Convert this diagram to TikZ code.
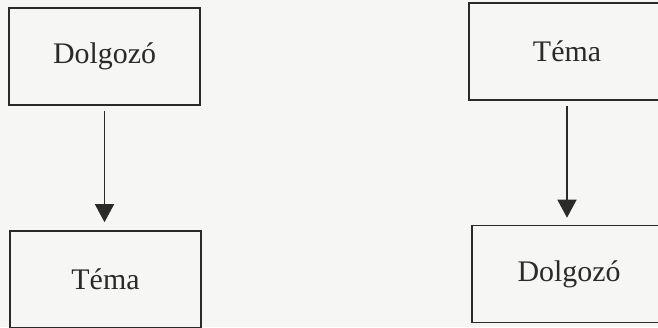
\documentclass[tikz,border=0pt]{standalone}
\usepackage{fontspec}
\setmainfont{Liberation Serif}
\usetikzlibrary{arrows.meta,positioning}
\definecolor{ink}{HTML}{2A2A2A}
\definecolor{paper}{HTML}{F6F6F4}
\tikzset{>=Latex,
  entity/.style={draw=ink,line width=1.6pt,fill=paper,text=ink,
    minimum width=191bp,minimum height=97bp,inner sep=0pt,
    font=\fontsize{30}{36}\selectfont},
  link/.style={draw=ink,line width=1.4pt,-{Triangle[width=19bp,length=18bp]}}}
\begin{document}
\begin{tikzpicture}[x=1bp,y=-1bp]
\useasboundingbox (0,0) rectangle (658,327);
\fill[paper] (0,0) rectangle (658,327);
\clip (0,0) rectangle (658,327);
% left pair
\node[entity] (dolgL) at (104.5,56.5) {Dolgozó};
\node[entity] (temaL) at (105.5,279.5) {Téma};
\draw[link,shorten <=5bp,shorten >=8bp] (dolgL.south) -- (dolgL.south |- temaL.north);
% right pair
\node[entity,minimum width=196bp] (temaR) at (567,51.5) {Téma};
\node[entity,minimum width=194bp] (dolgR) at (569,274) {Dolgozó};
\draw[link,shorten <=5bp,shorten >=7bp] (temaR.south) -- (temaR.south |- dolgR.north);
\end{tikzpicture}
\end{document}
